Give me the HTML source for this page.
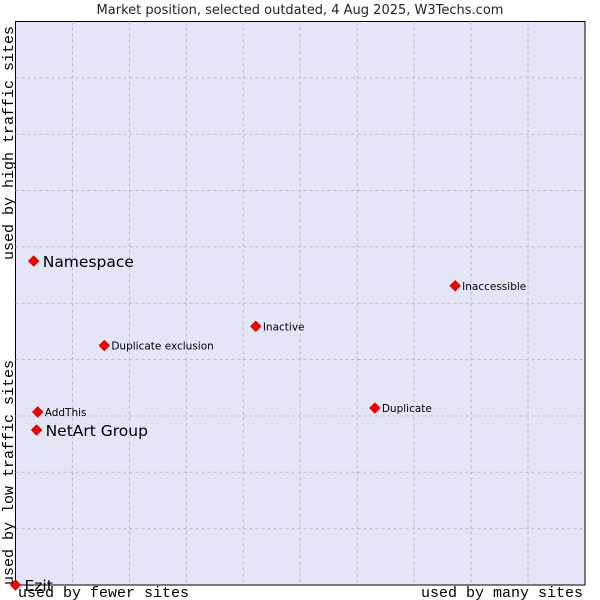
<!DOCTYPE html>
<html><head><meta charset="utf-8"><style>
html,body{margin:0;padding:0;background:#fff;}
svg{display:block;}
</style></head><body>
<svg width="600" height="600" xmlns="http://www.w3.org/2000/svg">
<text x="300" y="14" text-anchor="middle" font-family="DejaVu Sans, sans-serif" font-size="13" fill="#222">Market position, selected outdated, 4 Aug 2025, W3Techs.com</text>
<rect x="15.5" y="21.5" width="569.5" height="563.5" fill="#e4e6f7" stroke="#000" stroke-width="1"/>
<g id="grid"></g>
<g id="points"></g>
<text transform="translate(13,585) rotate(-90)" font-family="Liberation Mono, DejaVu Sans Mono, monospace" font-size="15" fill="#000">used by low traffic sites</text>
<text transform="translate(13,260) rotate(-90)" font-family="Liberation Mono, DejaVu Sans Mono, monospace" font-size="15" fill="#000">used by high traffic sites</text>
<text x="18" y="597" font-family="Liberation Mono, DejaVu Sans Mono, monospace" font-size="15" fill="#000">used by fewer sites</text>
<text x="583" y="597" text-anchor="end" font-family="Liberation Mono, DejaVu Sans Mono, monospace" font-size="15" fill="#000">used by many sites</text>
</svg>
<script>
const names=["Namespace","NetArt Group","AddThis","Duplicate exclusion","Inactive","Inaccessible","Duplicate","Ezit"];
const xVals=[3.2,3.7,3.9,15.6,42.2,77.2,63.1,0];
const yVals=[57.5,27.5,30.7,42.5,45.9,53.1,31.4,0];
const big=[true,true,false,false,false,false,false,true];
const L=15.5,R=585,T=21.5,B=585;
const sx=v=>L+v/100*(R-L);
const sy=v=>B-v/100*(B-T);
const NS="http://www.w3.org/2000/svg";
const g=document.getElementById('grid');
for(let i=1;i<10;i++){
 const x=L+i*(R-L)/10, y=T+i*(B-T)/10;
 const v=document.createElementNS(NS,'line');
 v.setAttribute('x1',x);v.setAttribute('x2',x);v.setAttribute('y1',T);v.setAttribute('y2',B);
 v.setAttribute('stroke','#bbb');v.setAttribute('stroke-dasharray','3,3');
 
 
 g.appendChild(v);
 const h=document.createElementNS(NS,'line');
 h.setAttribute('y1',y);h.setAttribute('y2',y);h.setAttribute('x1',L);h.setAttribute('x2',R);
 h.setAttribute('stroke','#bbb');h.setAttribute('stroke-dasharray','3,3');
 
 
 g.appendChild(h);
}
const p=document.getElementById('points');
names.forEach((n,i)=>{
 const x=sx(xVals[i]),y=sy(yVals[i]);
 const d=document.createElementNS(NS,'path');
 d.setAttribute('d',`M${x},${y-5}L${x+5},${y}L${x},${y+5}L${x-5},${y}Z`);
 d.setAttribute('fill','#f00');d.setAttribute('stroke','#c00');d.setAttribute('stroke-width','1');
 
 
 p.appendChild(d);
 const t=document.createElementNS(NS,'text');
 t.setAttribute('x',x+(big[i]?9:7));t.setAttribute('y',y+(big[i]?6:4));
 t.setAttribute('font-family','DejaVu Sans, sans-serif');
 t.setAttribute('font-size',big[i]?'15.5':'10.5');
 t.setAttribute('fill','#000');
 t.textContent=n;
 
 
 p.appendChild(t);
});
</script>
</body></html>
